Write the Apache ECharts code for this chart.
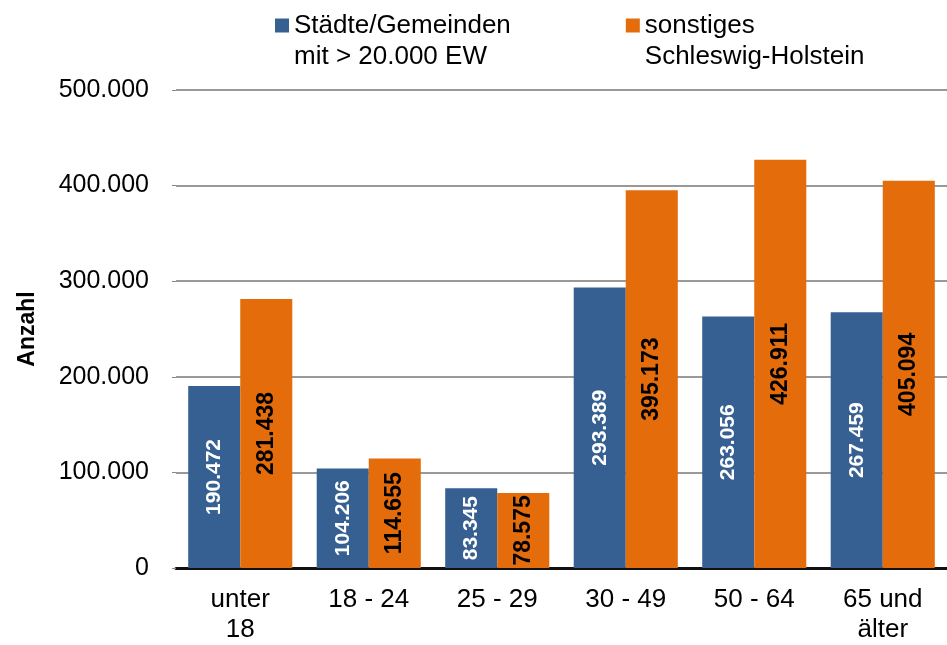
<!DOCTYPE html>
<html>
<head>
<meta charset="utf-8">
<script src="https://cdn.jsdelivr.net/npm/echarts@6/dist/echarts.min.js"></script>
<style>
  html, body { margin: 0; padding: 0; background: #fff; }
  #chart { width: 947px; height: 645px; }
</style>
</head>
<body>
<div id="chart"></div>
<script>
const categories = ["unter\n18", "18 - 24", "25 - 29", "30 - 49", "50 - 64", "65 und\nälter"];
const staedte = [190472, 104206, 83345, 293389, 263056, 267459];
const sonstiges = [281438, 114655, 78575, 395173, 426911, 405094];
const seriesNames = ["Städte/Gemeinden\nmit > 20.000 EW", "sonstiges\nSchleswig-Holstein"];
const yTicks = [0, 100000, 200000, 300000, 400000, 500000];

const fmt = (v) => String(v).replace(/\B(?=(\d{3})+(?!\d))/g, ".");
const font = "Liberation Sans, Arial, sans-serif";

const chart = echarts.init(document.getElementById("chart"));
chart.setOption({
  animation: false,
  textStyle: { fontFamily: font },
  legend: {
    top: -21,
    left: 275,
    padding: 0,
    itemGap: 115,
    itemWidth: 14,
    itemHeight: 14,
    icon: "rect",
    // leading empty line keeps the square level with the first text line
    formatter: (name) => "\n" + name,
    textStyle: { fontSize: 26, color: "#000", lineHeight: 31, fontFamily: font },
    data: seriesNames
  },
  grid: { left: 176, right: 0, top: 90, bottom: 74 },
  xAxis: {
    type: "category",
    data: categories,
    axisLine: { lineStyle: { color: "#111", width: 3 } },
    axisTick: { show: false },
    axisLabel: { fontSize: 26, color: "#000", lineHeight: 30, margin: 17, fontFamily: font }
  },
  yAxis: {
    type: "value",
    min: yTicks[0],
    max: yTicks[yTicks.length - 1],
    interval: 100000,
    name: "Anzahl",
    nameLocation: "middle",
    nameGap: 137,
    nameTextStyle: { fontSize: 23, fontWeight: "bold", color: "#000", fontFamily: font },
    axisLine: { show: false },
    axisTick: { show: true, length: 4, lineStyle: { color: "#888" } },
    splitLine: { lineStyle: { color: "#999", width: 2 } },
    axisLabel: { fontSize: 25, color: "#000", margin: 27, fontFamily: font, formatter: fmt }
  },
  series: [
    {
      name: seriesNames[0],
      type: "bar",
      data: staedte,
      barGap: "0%",
      barCategoryGap: "19%",
      itemStyle: { color: "#376092" },
      label: {
        show: true, position: "inside", rotate: 90,
        color: "#fff", fontSize: 21, fontWeight: "bold", fontFamily: font,
        formatter: (p) => fmt(p.value)
      }
    },
    {
      name: seriesNames[1],
      type: "bar",
      data: sonstiges,
      itemStyle: { color: "#E46C0A" },
      label: {
        show: true, position: "inside", rotate: 90,
        color: "#000", fontSize: 23, fontWeight: "bold", fontFamily: font,
        formatter: (p) => fmt(p.value)
      }
    }
  ]
});
</script>
</body>
</html>
